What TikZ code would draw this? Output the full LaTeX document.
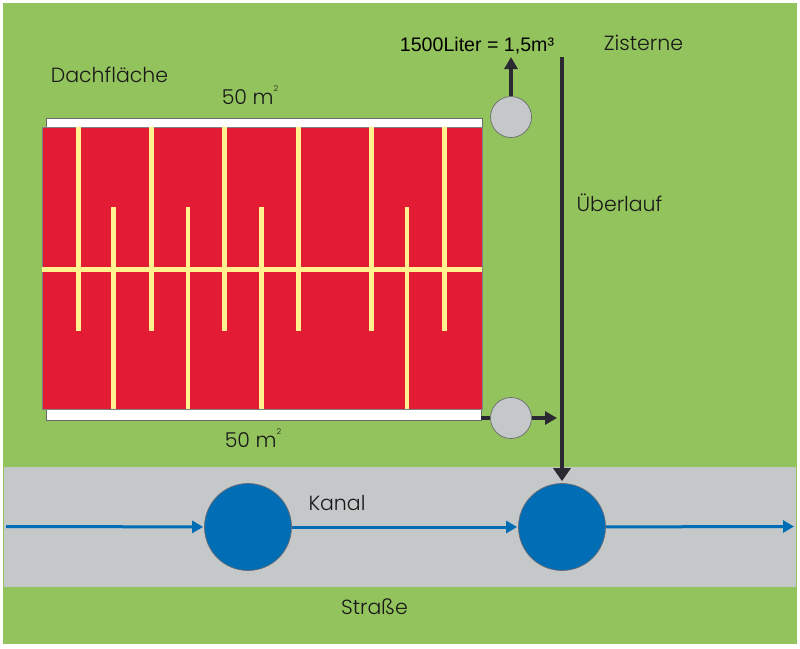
\documentclass[tikz,border=0pt]{standalone}
\usepackage{fontspec}
\setmainfont{Poppins Light}[BoldFont=Poppins]
\newfontfamily\arialfont{Liberation Sans}
\usetikzlibrary{arrows.meta}

\definecolor{wiese}{HTML}{93C35D}
\definecolor{strasse}{HTML}{C5C8C9}
\definecolor{dach}{HTML}{E31B34}
\definecolor{rinne}{HTML}{FFF28F}
\definecolor{kanal}{HTML}{006DB5}
\definecolor{rohr}{HTML}{2B2A33}

\newcommand{\sqm}{50 m\raisebox{1.15ex}{\fontsize{8}{8}\selectfont 2}}

\tikzset{
    label text/.style={text=black!90, font=\fontsize{20.5}{24}\selectfont, inner sep=0pt},
    tank/.style={circle, draw=rohr!70, fill=strasse, line width=0.7pt, minimum size=41pt, inner sep=0pt},
    schacht/.style={circle, draw=rohr!70, fill=kanal, line width=0.7pt, minimum size=87pt, inner sep=0pt},
    blue flow/.style={draw=kanal, line width=3pt, -{Triangle[length=11pt, width=12pt]}},
    pipe/.style={draw=rohr, line width=4.2pt},
    pipe flow/.style={pipe, -{Triangle[length=12pt, width=13pt]}},
    pipe main/.style={pipe, line width=4.5pt, -{Triangle[length=13pt, width=17pt]}}
}

\begin{document}
\begin{tikzpicture}[x=1pt, y=-1pt]
    \useasboundingbox (0, 0) rectangle (800, 648);
    \fill[wiese] (3, 3) rectangle (797, 644);
    \fill[strasse] (4, 467) rectangle (796, 587);

    % roof
    \draw[fill=white, draw=rohr!70, line width=0.7pt] (46, 118) rectangle (482, 127);
    \draw[fill=white, draw=rohr!70, line width=0.7pt] (46, 409) rectangle (481, 420);
    \draw[fill=dach, draw=rohr!60, line width=0.6pt] (42, 127) rectangle (482, 409);
    \foreach \x in {78, 151, 224.5, 298, 371, 444} {
        \fill[rinne] (\x-2.5, 127) rectangle (\x+2.5, 331);
    }
    \foreach \x in {113.5, 188, 261.5, 407} {
        \fill[rinne] (\x-2.2, 207) rectangle (\x+2.2, 409);
    }
    \fill[rinne] (42, 267) rectangle (482, 271.5);

    \node[tank] (tanktop) at (511, 117) {};
    \node[tank] (tankbottom) at (511, 418) {};
    \node[schacht] (schachtleft) at (248, 527) {};
    \node[schacht] (schachtright) at (562, 527) {};

    \coordinate (roofedge) at (481, 418);
    \coordinate (overflowtop) at (562, 57);
    \coordinate (overflowjoin) at (557, 418);
    \coordinate (volumetip) at (511, 57);
    \coordinate (kanalin) at (6, 526.5);
    \coordinate (kanalout) at (794, 526.5);

    % pipes
    \draw[pipe] (roofedge) -- (tankbottom);
    \draw[pipe flow] (tankbottom) -- (overflowjoin);
    \draw[pipe flow] (tanktop) -- (volumetip);
    \draw[pipe main, shorten >=2pt] (overflowtop) -- (schachtright);

    % sewer
    \draw[blue flow, shorten >=1pt] (kanalin) -- (schachtleft);
    \draw[blue flow, shorten >=1pt] (schachtleft) -- (schachtright);
    \draw[blue flow] (schachtright) -- (kanalout);

    \node[label text] (dachflaeche) at (109.5, 75) {Dachfläche};
    \node[label text] (areatop) at (250, 95) {\sqm};
    \node[label text] (areabottom) at (253, 438) {\sqm};
    \node[label text] (zisterne) at (643.5, 43) {Zisterne};
    \node[label text] (ueberlauf) at (619.5, 203) {Überlauf};
    \node[label text] (kanallabel) at (337, 503) {Kanal};
    \node[label text] (strasselabel) at (374.5, 607) {Straße};
    \node[text=black, inner sep=0pt, font=\arialfont\fontsize{19.6}{22}\selectfont] (volume) at (477, 46) {1500Liter = 1,5m³};
\end{tikzpicture}
\end{document}
